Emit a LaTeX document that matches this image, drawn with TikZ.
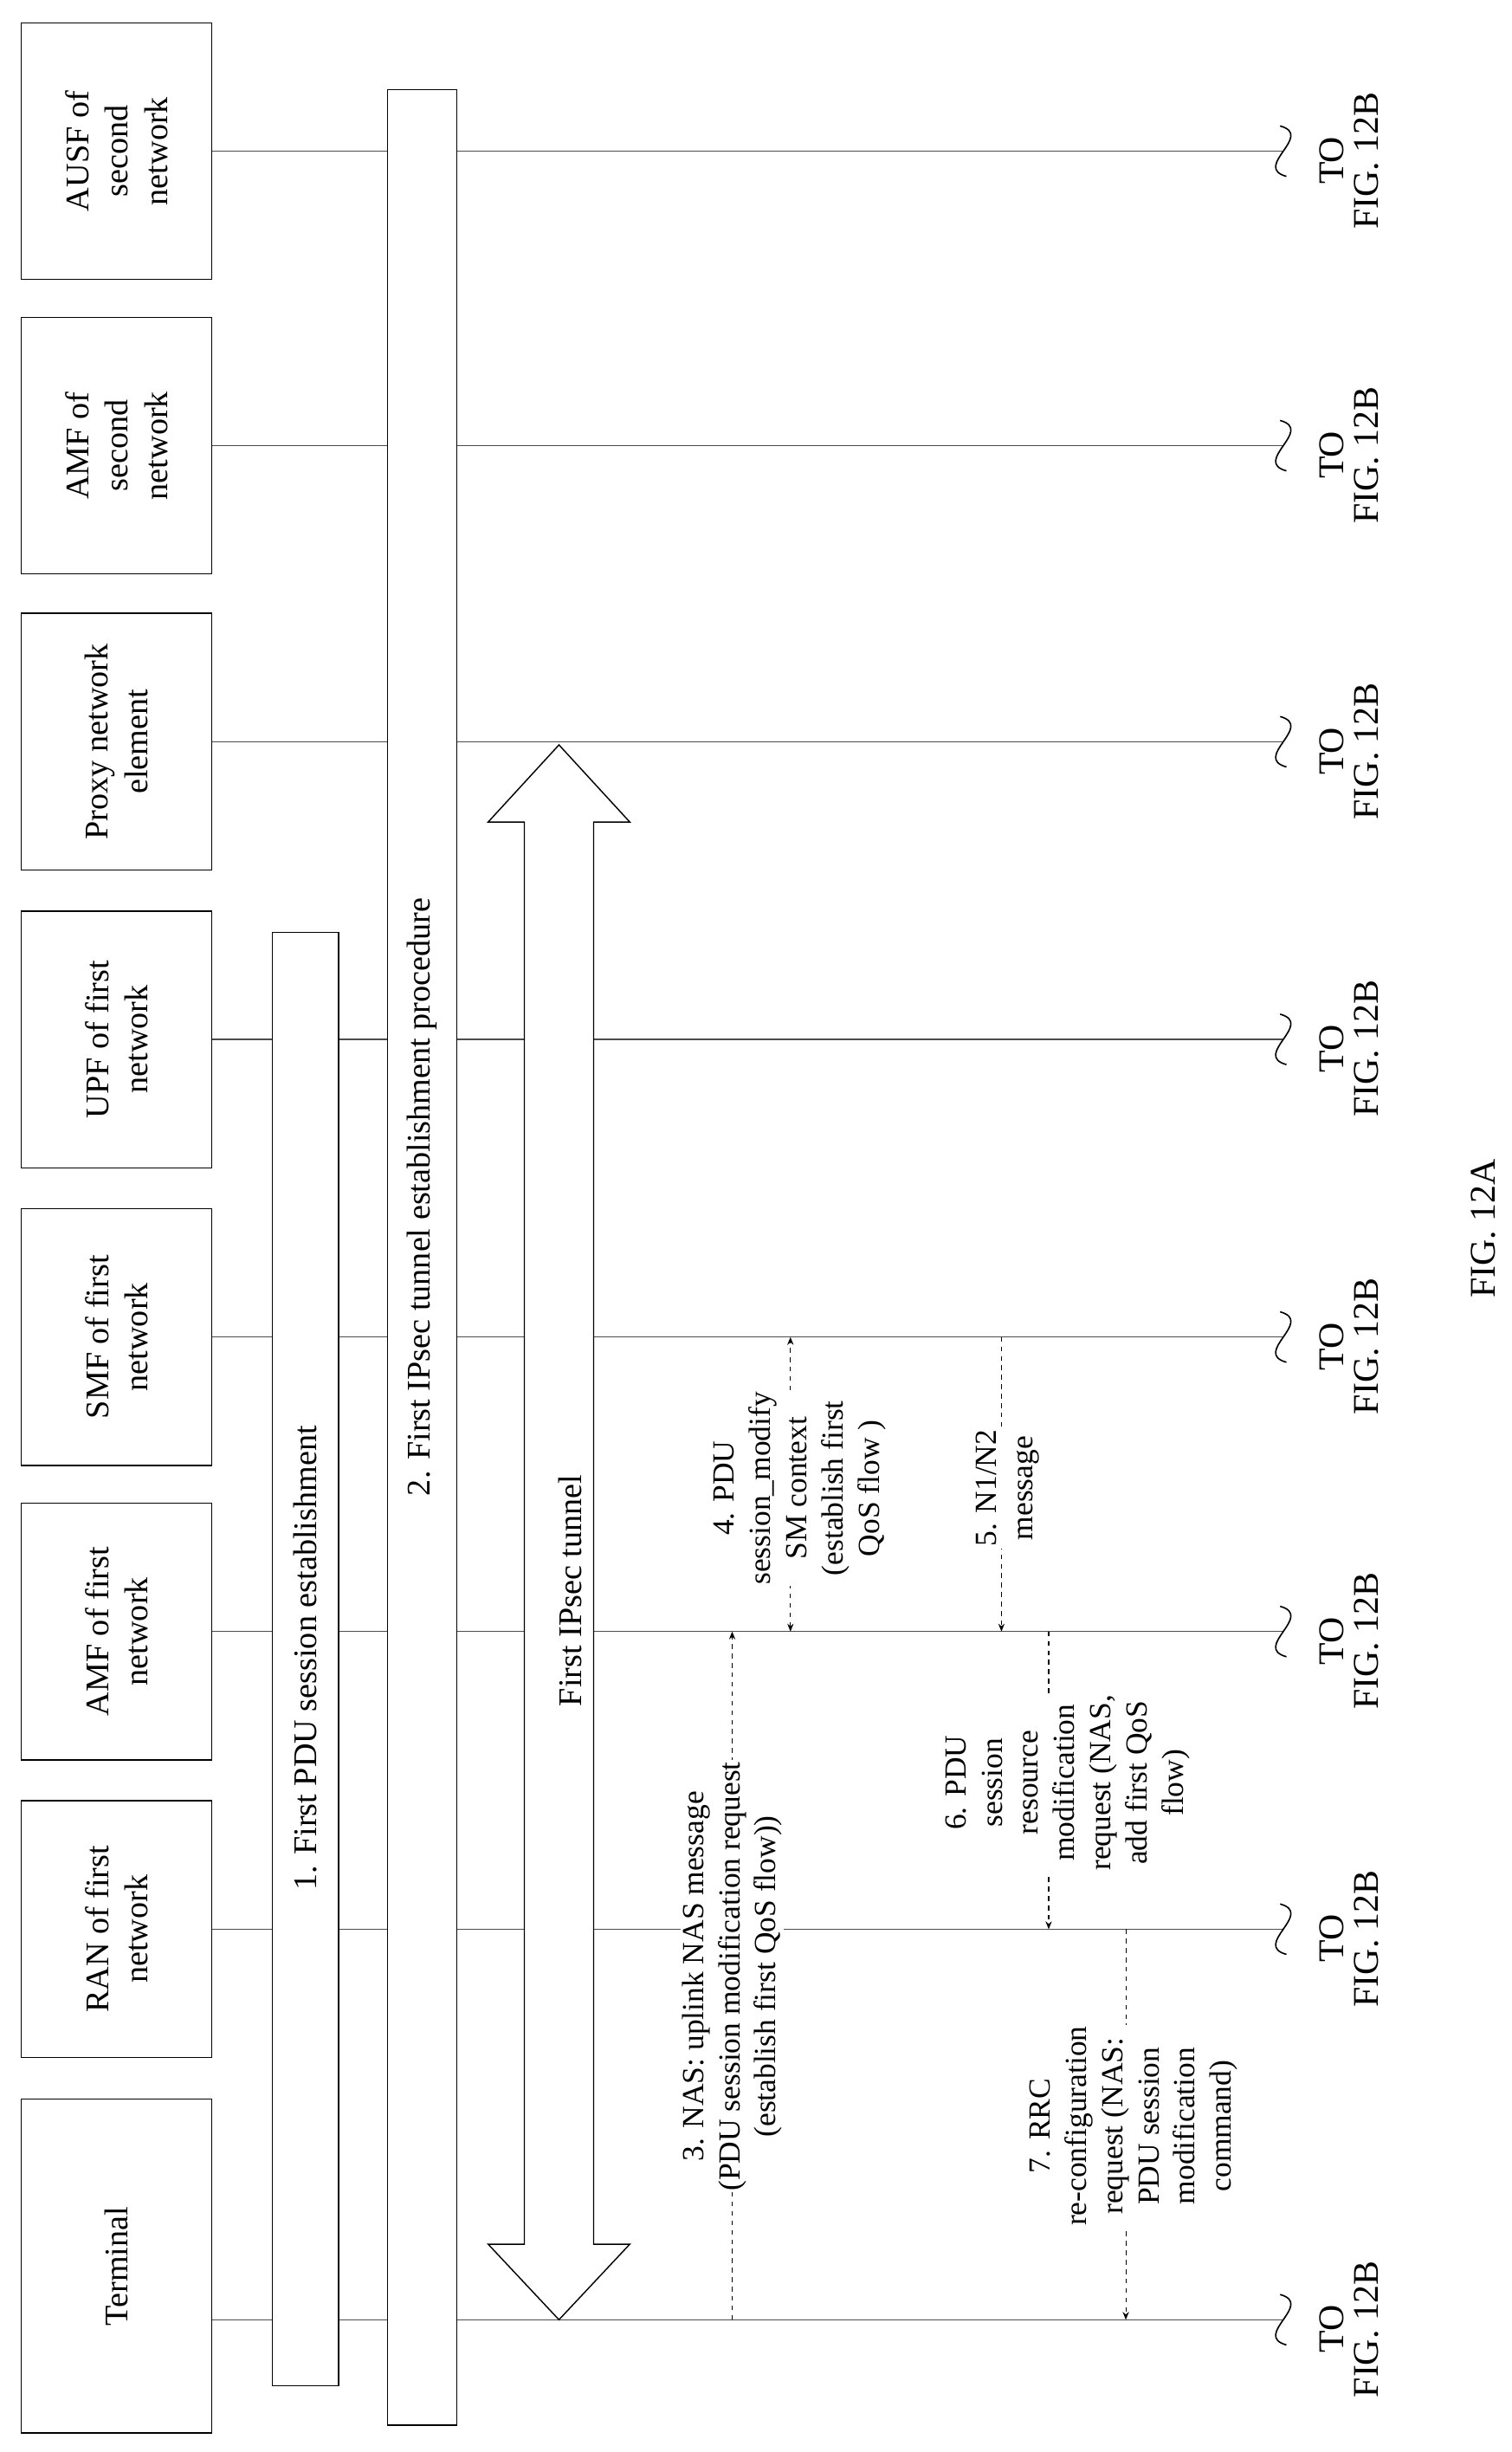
\documentclass[tikz,border=0pt]{standalone}
\usepackage{fontspec}
\setmainfont{Liberation Serif}
\usetikzlibrary{arrows.meta,shapes.arrows}
\begin{document}
\begin{tikzpicture}[x=1pt,y=-1pt,
  part/.style={draw,thick,minimum width=121pt,minimum height=163pt,font=\fontsize{21}{25}\selectfont,align=center},
  life/.style={draw=black!70,line width=0.8pt},
  msg/.style={draw,dashed,line width=0.6pt,-{Stealth[length=5pt,width=4pt]}},
  lbl/.style={rotate=90,fill=white,align=center,inner sep=1pt,font=\fontsize{19.5}{23}\selectfont},
  tolbl/.style={rotate=90,align=center,font=\fontsize{23}{22}\selectfont,inner sep=0pt}]
\useasboundingbox (0,0) rectangle (960,1557);
\foreach \n/\yc/\t/\h in {ausf/96/{AUSF of\\second\\network}/163, amfb/283/{AMF of\\second\\network}/163,
  proxy/471/{Proxy network\\element}/163, upf/660/{UPF of first\\network}/163, smf/849/{SMF of first\\network}/163,
  amfa/1036/{AMF of first\\network}/163, ran/1225/{RAN of first\\network}/163}{
  \node[part,minimum height=\h pt] (\n) at (74,\yc) {};
  \node[rotate=90,align=center,font=\fontsize{21}{25}\selectfont] at (\n) {\t};
  \coordinate (\n e) at (815,\yc);
  \draw[life] (\n.east) -- (\n e);
  \draw[line width=0.9pt] (\n e) ++(-2,-16) .. controls +(22,6) and +(-22,-6) .. ++(4,32);
  \node[tolbl] at (857,\yc+6) {TO\\FIG. 12B};
}
\node[part,minimum height=212pt] (term) at (74,1439) {};
\node[rotate=90,font=\fontsize{21}{25}\selectfont] at (term) {Terminal};
\coordinate (terme) at (815,1473);
\draw[life] (135,1473) -- (terme);
\draw[line width=0.9pt] (terme) ++(-2,-16) .. controls +(22,6) and +(-22,-6) .. ++(4,32);
\node[tolbl] at (857,1479) {TO\\FIG. 12B};
% long boxes
\draw[thick,fill=white] (173,592) rectangle (215,1515);
\node[rotate=90,font=\fontsize{21}{25}\selectfont] (p1) at (194,1053) {1. First PDU session establishment};
\draw[thick,fill=white] (246,57) rectangle (290,1540);
\node[rotate=90,font=\fontsize{21}{25}\selectfont] (p2) at (268,760) {2. First IPsec tunnel establishment procedure};
% double arrow
\draw[thick,fill=white] (355,473) -- (400,522) -- (377,522) -- (377,1425) -- (400,1425) -- (355,1473) -- (310,1425) -- (333,1425) -- (333,522) -- (310,522) -- cycle;
\node[rotate=90,font=\fontsize{21}{25}\selectfont] at (362,1010) {First IPsec tunnel};
% messages
\draw[msg] (465,1473) -- (465,1036);
\node[lbl] at (465,1255) {3. NAS: uplink NAS message\\(PDU session modification request\\(establish first QoS flow))};
\draw[msg,{Stealth[length=5pt,width=4pt]}-{Stealth[length=5pt,width=4pt]}] (502,1036) -- (502,849);
\node[lbl] at (508,945) {4. PDU\\session\_modify\\SM context\\(establish first\\QoS flow )};
\draw[msg] (636,849) -- (636,1036);
\node[lbl] at (640,945) {5. N1/N2\\message};
\draw[msg] (666,1036) -- (666,1225);
\node[lbl] at (678,1132) {6. PDU\\session\\resource\\modification\\request (NAS,\\add first QoS\\flow)};
\draw[msg] (715,1225) -- (715,1473);
\node[lbl] at (720,1350) {7. RRC\\re-configuration\\request (NAS:\\PDU session\\modification\\command)};
\node[rotate=90,font=\fontsize{23}{26}\selectfont] at (942,780) {FIG. 12A};
\end{tikzpicture}
\end{document}
